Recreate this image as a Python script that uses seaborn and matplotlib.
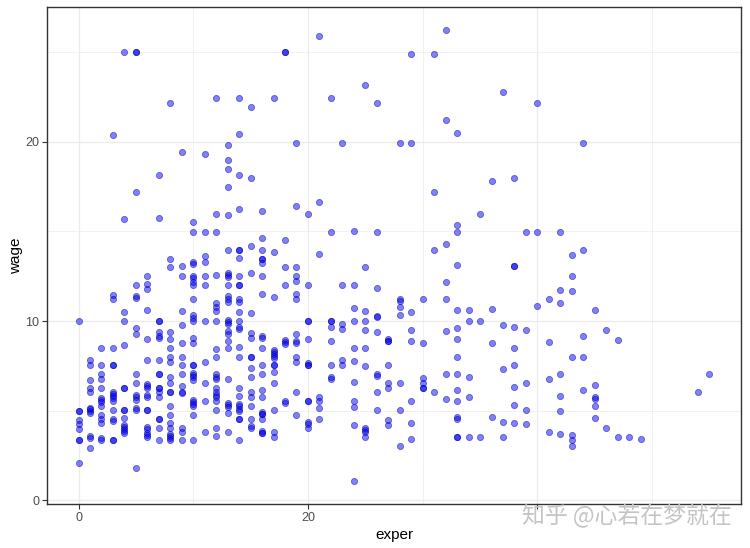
import matplotlib
matplotlib.use("Agg")
import matplotlib.pyplot as plt
from matplotlib.ticker import FixedLocator, FixedFormatter
import seaborn as sns
import pandas as pd

# wage values, grouped by years of experience
w_e0 = [10.0, 5.0, 5.0, 4.5, 4.25, 4.0, 3.35, 3.35, 2.07]
w_e1 = [7.82, 7.54, 6.70, 6.26, 6.03, 5.17, 5.08, 4.97, 4.86, 3.59, 3.48, 2.90]
w_e2 = [8.49, 7.54, 7.04, 6.76, 6.26, 5.70, 5.59, 5.47, 5.25, 4.75, 4.52, 4.30, 3.48, 3.37]
w_e3 = [20.4, 11.45, 11.23, 8.49, 7.54, 7.54, 6.03, 5.92, 5.81, 5.70, 5.53, 5.03, 4.52, 4.41, 3.35, 3.35]
w_e4 = [25.0, 15.7, 10.50, 10.0, 8.66, 6.26, 6.26, 5.03, 5.03, 4.58, 4.19, 4.08, 3.97, 3.85, 3.74]
w_e5 = [25.0, 25.0, 17.2, 12.01, 11.40, 11.28, 9.61, 9.27, 7.04, 6.54, 5.87, 5.75, 5.59, 5.14, 5.03, 1.79]
w_e6 = [12.51, 12.07, 11.79, 10.61, 8.99, 7.82, 6.48, 6.37, 6.26, 5.87, 5.75, 5.03, 5.03, 4.08, 3.97, 3.74, 3.63, 3.52]
w_e7 = [18.16, 15.75, 10.0, 10.0, 9.38, 9.16, 9.05, 7.82, 7.04, 7.04, 6.26, 6.26, 6.03, 5.75, 4.52, 4.52, 4.02, 3.35]
w_e8 = [22.17, 13.46, 13.02, 9.38, 8.99, 8.49, 7.99, 7.71, 6.87, 6.54, 6.03, 6.03, 5.25, 4.75, 4.30, 4.02, 3.69, 3.57, 3.46, 3.35]
w_e9 = [19.44, 13.07, 12.51, 10.56, 9.78, 8.77, 7.99, 7.54, 7.04, 6.37, 6.03, 5.97, 4.02, 3.80, 3.35]
w_e10 = [15.52, 14.97, 13.29, 13.18, 12.51, 12.40, 12.18, 12.01, 11.23, 10.33, 10.17, 10.0, 9.05, 8.77, 7.54, 7.54,
         7.09, 6.98, 6.87, 6.70, 5.59, 5.47, 5.36, 5.25, 4.75, 3.35]
w_e11 = [19.32, 14.97, 13.6, 13.29, 12.51, 12.01, 10.0, 7.71, 6.54, 5.53, 3.80]
w_e12 = [22.45, 15.97, 14.97, 12.57, 11.00, 10.78, 10.56, 10.0, 8.43, 7.99, 7.04, 6.87, 6.76, 6.26, 6.03, 5.87, 5.75,
         5.53, 5.03, 4.02, 3.57]
w_e13 = [19.83, 18.99, 18.49, 17.48, 15.92, 13.96, 12.68, 12.57, 12.46, 12.01, 11.40, 11.23, 11.06, 10.05, 9.94, 9.83,
         9.44, 9.27, 8.88, 8.49, 6.76, 5.42, 5.31, 5.19, 4.86, 3.80]
w_e14 = [22.45, 20.44, 18.15, 16.25, 13.96, 13.96, 13.51, 12.51, 12.01, 12.01, 11.23, 11.06, 10.50, 10.0, 9.66, 9.55,
         8.55, 7.99, 6.26, 5.81, 5.36, 5.25, 5.08, 4.97, 4.52, 4.52, 3.35]
w_e15 = [21.95, 17.98, 14.18, 12.68, 10.45, 9.33, 9.05, 7.99, 7.99, 7.37, 6.87, 6.03, 5.75, 5.25, 4.52, 4.13, 4.02]
w_e16 = [16.14, 14.63, 13.96, 13.46, 13.46, 13.24, 12.51, 11.51, 9.16, 9.05, 8.49, 7.54, 7.04, 6.14, 5.75, 4.92, 4.80,
         4.80, 4.52, 3.85, 3.74, 3.74]
w_e17 = [22.45, 13.85, 11.34, 8.38, 8.27, 8.16, 8.04, 7.93, 7.54, 7.54, 7.15, 6.54, 5.03, 3.80, 3.52]
w_e18 = [25.0, 25.0, 14.52, 13.02, 12.01, 8.94, 8.83, 8.71, 5.53, 5.42]
w_e19 = [19.94, 16.42, 13.02, 12.51, 12.23, 11.51, 11.23, 9.27, 8.88, 8.77, 7.99, 7.71, 6.03, 4.75]
w_e20 = [15.97, 12.01, 10.0, 10.0, 8.99, 7.65, 7.54, 7.54, 5.53, 5.53, 4.36, 4.24, 4.02]
w_e21 = [25.92, 16.64, 13.74, 5.75, 5.53, 5.14, 4.52]
w_e22 = [22.45, 14.97, 10.0, 10.0, 9.66, 8.88, 7.54, 6.87, 6.76]
w_e23 = [19.94, 12.01, 9.83, 9.55, 7.82, 7.54]
w_e24 = [15.02, 12.01, 10.72, 10.0, 8.49, 7.76, 6.59, 5.53, 5.19, 4.19, 1.06]
w_e25 = [23.18, 13.02, 10.56, 10.0, 9.50, 8.49, 7.48, 4.02, 3.91, 3.80, 3.52]
w_e26 = [22.17, 14.97, 11.84, 10.28, 10.22, 9.38, 7.04, 6.93, 6.03, 5.03]
w_e27 = [8.99, 8.88, 8.88, 7.54, 6.54, 6.26, 4.47, 4.19]
w_e28 = [19.94, 11.23, 11.12, 10.78, 10.33, 6.54, 5.03, 3.02]
w_e29 = [24.91, 19.94, 10.50, 9.50, 8.88, 5.53, 4.30, 3.41]
w_e30 = [11.23, 8.77, 6.81, 6.54, 6.26, 6.26]
w_e31 = [24.91, 17.20, 13.96, 6.03]
w_e32 = [26.25, 21.22, 14.30, 12.18, 11.23, 9.44, 7.04, 5.64]
w_e33 = [20.50, 15.36, 14.97, 13.13, 10.61, 9.61, 8.99, 7.99, 7.04, 6.14, 5.53, 4.64, 4.52, 3.52, 3.52]
w_e34 = [10.61, 10.0, 6.87, 5.75, 3.52]
w_e35 = [15.97, 10.0, 3.52]
w_e36 = [17.81, 10.67, 8.77, 4.64]
w_e37 = [22.79, 9.78, 7.32, 4.36, 3.52]
w_e38 = [17.98, 13.09, 13.09, 9.66, 8.49, 7.54, 6.31, 5.31, 4.30]
w_e39 = [14.97, 9.50, 6.54, 5.03, 4.24]
w_e40 = [22.17, 14.97, 10.84]
w_e41 = [11.23, 8.83, 6.76, 3.80]
w_e42 = [14.97, 11.73, 11.00, 7.04, 5.81, 4.97, 3.69]
w_e43 = [13.68, 12.51, 11.67, 7.99, 3.63, 3.35, 3.02]
w_e44 = [19.94, 13.96, 9.16, 7.99, 6.14]
w_e45 = [10.61, 6.42, 5.75, 5.64, 5.25, 4.58]
w_e46 = [9.50, 4.02]
w_e47 = [8.94, 3.52]
w_e48 = [3.52]
w_e49 = [3.41]
w_e54 = [6.03]
w_e55 = [7.04]

groups = {0: w_e0, 1: w_e1, 2: w_e2, 3: w_e3, 4: w_e4, 5: w_e5, 6: w_e6, 7: w_e7, 8: w_e8, 9: w_e9,
          10: w_e10, 11: w_e11, 12: w_e12, 13: w_e13, 14: w_e14, 15: w_e15, 16: w_e16, 17: w_e17,
          18: w_e18, 19: w_e19, 20: w_e20, 21: w_e21, 22: w_e22, 23: w_e23, 24: w_e24, 25: w_e25,
          26: w_e26, 27: w_e27, 28: w_e28, 29: w_e29, 30: w_e30, 31: w_e31, 32: w_e32, 33: w_e33,
          34: w_e34, 35: w_e35, 36: w_e36, 37: w_e37, 38: w_e38, 39: w_e39, 40: w_e40, 41: w_e41,
          42: w_e42, 43: w_e43, 44: w_e44, 45: w_e45, 46: w_e46, 47: w_e47, 48: w_e48, 49: w_e49,
          54: w_e54, 55: w_e55}

x_major = [0, 20, 40]
x_labels = ["0", "20", ""]   # the "40" label is hidden under the watermark in the reference
x_minor = [10, 30, 50]
y_major = [0, 10, 20]
y_minor = [5, 15, 25]
watermark = "知乎 @心若在梦就在"

rows = [(e, w) for e, ws in groups.items() for w in ws]
df = pd.DataFrame(rows, columns=["exper", "wage"])

sns.set_theme(style="white")
plt.rcParams['font.family'] = ['Liberation Sans', 'DejaVu Sans']

fig = plt.figure(figsize=(7.5, 5.48), dpi=100)
ax = fig.add_axes([47/750, 1-504/548, (741-47)/750, (504-7)/548])
ax.set_facecolor("white")

sns.scatterplot(data=df, x="exper", y="wage", ax=ax, color="#0000ff", alpha=0.5,
                edgecolor="#00008b", linewidth=0.6, s=20, zorder=3, legend=False)

ax.margins(0.05)
ax.xaxis.set_major_locator(FixedLocator(x_major))
ax.xaxis.set_major_formatter(FixedFormatter(x_labels))
ax.xaxis.set_minor_locator(FixedLocator(x_minor))
ax.yaxis.set_major_locator(FixedLocator(y_major))
ax.yaxis.set_minor_locator(FixedLocator(y_minor))
ax.grid(True, which="major", color="#ebebeb", linewidth=0.9, zorder=0)
ax.grid(True, which="minor", color="#ebebeb", linewidth=0.5, zorder=0)
ax.set_axisbelow(True)
ax.tick_params(axis="both", which="major", length=3.5, width=0.8, color="#333333",
               labelcolor="#4d4d4d", labelsize=9, pad=2, bottom=True, left=True)
ax.tick_params(axis="both", which="minor", length=0)
for sp in ax.spines.values():
    sp.set_edgecolor("#333333")
    sp.set_linewidth(1.0)

ax.set_xlabel("exper", fontsize=11, color="black", labelpad=3)
ax.set_ylabel("wage", fontsize=11, color="black", labelpad=2)

fig.text(0.836, 0.058, watermark, fontsize=16.5, color="#c4c4c4",
         family=["Noto Sans CJK SC", "DejaVu Sans"], ha="center", va="center", zorder=10)

fig.savefig("out.png", dpi=100)
